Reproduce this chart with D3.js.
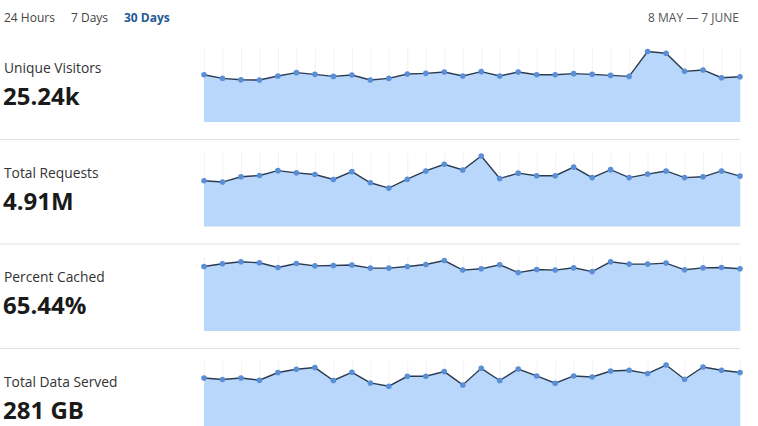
<!DOCTYPE html>
<html>
<head>
<meta charset="utf-8">
<script src="https://cdn.jsdelivr.net/npm/d3@7"></script>
<style>
  body { margin: 0; background: #fff; font-family: 'Open Sans', sans-serif; }
  svg { display: block; }
  .tab { font-size: 12px; fill: #444; }
  .tab.active { font-weight: 700; fill: #245b94; }
  .range { font-size: 12px; fill: #555; }
  .stat-label { font-size: 13.8px; fill: #333; }
  .stat-value { font-size: 24px; font-weight: 700; fill: #1a1a1a; }
  .sep { stroke: #e2e2e2; stroke-width: 1; }
  .grid line { stroke: #f3f3f3; stroke-width: 1; }
  .area { fill: #b9d7fa; }
  .line { fill: none; stroke: #2b3b52; stroke-width: 1.4; }
  .dot { fill: #5a8fd8; }
</style>
</head>
<body>
<div id="content"></div>
<script>
const TABS = ['24 Hours', '7 Days', '30 Days'];
const ACTIVE_TAB = '30 Days';
const RANGE_LABEL = '8 MAY \u2014 7 JUNE';

const DAYS = d3.timeDay.range(new Date(2020, 4, 8), new Date(2020, 5, 7));

const LABELS = ['Unique Visitors', 'Total Requests', 'Percent Cached', 'Total Data Served'];
const TOTALS = ['25.24k', '4.91M', '65.44%', '281 GB'];

// daily visitors
const VISITORS = [808, 745, 722, 717, 786, 843, 814, 779, 803, 717,
                  745, 820, 831, 855, 786, 860, 786, 855, 808, 808,
                  826, 814, 796, 779, 1204, 1175, 865, 889, 757, 774];
// daily requests, thousands
const REQUESTS = [144, 140, 156.5, 160.6, 176, 169, 163.7, 148, 173, 137.7,
                  121, 149, 175, 196, 178, 222, 151, 168, 160, 160,
                  187, 154, 179, 154, 165, 175, 154, 156.5, 175, 158.7];
// percent cached
const CACHED = [65.3, 68.1, 70.1, 69.1, 64.3, 68.4, 66.0, 66.3, 66.8, 63.7,
                63.7, 65.3, 67.4, 71.4, 61.7, 63.0, 67.1, 59.2, 62.3, 61.7,
                64.0, 60.2, 70.1, 67.8, 67.8, 68.8, 62.0, 64.0, 64.3, 63.0];
// data served, GB
const DATA_GB = [8.96, 8.71, 8.96, 8.60, 9.80, 10.31, 10.57, 8.56, 9.84, 8.18,
                 7.67, 9.22, 9.22, 9.95, 7.87, 10.46, 8.56, 10.35, 9.27, 8.14,
                 9.27, 9.11, 10.04, 10.15, 9.64, 10.97, 8.76, 10.66, 10.15, 9.80];

const SERIES = [VISITORS, REQUESTS, CACHED, DATA_GB];

var width = 758;
var height = 426;

var panelStep = 104.5;
var plotHeight = 74;
var plotLeft = 204;
var plotRight = 740;

var svg = d3.select('#content')
.append('svg')
.attr('width', width)
.attr('height', height);

// header
var tabX = [4, 71, 124];
svg.selectAll('.tab')
.data(TABS)
.enter()
.append('text')
.attr('class', function (t) {return t === ACTIVE_TAB ? 'tab active' : 'tab'})
.attr('x', function (t, i) {return tabX[i]})
.attr('y', 22)
.text(function (t) {return t});

svg.append('text')
.attr('class', 'range')
.attr('x', plotRight - 1)
.attr('y', 22)
.attr('text-anchor', 'end')
.text(RANGE_LABEL);

var xScale = d3.scalePoint()
.domain(DAYS)
.range([plotLeft, plotRight]);

SERIES.forEach(function (values, i) {
    var bottom = 122 + i * panelStep;
    var g = svg.append('g').attr('class', 'panel');

    g.append('text')
    .attr('class', 'stat-label')
    .attr('x', 4)
    .attr('y', 73 + i * panelStep)
    .text(LABELS[i]);

    g.append('text')
    .attr('class', 'stat-value')
    .attr('x', 3)
    .attr('y', 105 + i * panelStep)
    .text(TOTALS[i]);

    if (i < SERIES.length - 1) {
        g.append('line')
        .attr('class', 'sep')
        .attr('x1', 0)
        .attr('x2', plotRight)
        .attr('y1', 139.5 + i * panelStep)
        .attr('y2', 139.5 + i * panelStep);
    }

    var yScale = d3.scaleLinear()
    .domain([0, d3.max(values) * 1.05])
    .range([bottom, bottom - plotHeight]);

    var pts = values.map(function (v, j) {return {day: DAYS[j], value: v}});

    g.append('g')
    .attr('class', 'grid')
    .selectAll('line')
    .data(pts)
    .enter()
    .append('line')
    .attr('x1', function (d) {return xScale(d.day) + 0.5})
    .attr('x2', function (d) {return xScale(d.day) + 0.5})
    .attr('y1', bottom - plotHeight)
    .attr('y2', bottom);

    var area = d3.area()
    .x(function (d) {return xScale(d.day)})
    .y0(bottom)
    .y1(function (d) {return yScale(d.value)});

    var line = d3.line()
    .x(function (d) {return xScale(d.day)})
    .y(function (d) {return yScale(d.value)});

    g.append('path')
    .datum(pts)
    .attr('class', 'area')
    .attr('d', area);

    g.append('path')
    .datum(pts)
    .attr('class', 'line')
    .attr('d', line);

    g.selectAll('.dot')
    .data(pts)
    .enter()
    .append('circle')
    .attr('class', 'dot')
    .attr('cx', function (d) {return xScale(d.day)})
    .attr('cy', function (d) {return yScale(d.value)})
    .attr('r', 2.8);
});
</script>
</body>
</html>
